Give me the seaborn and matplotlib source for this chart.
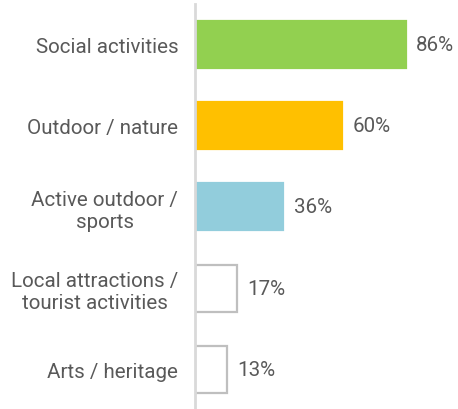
import matplotlib
matplotlib.use("Agg")
import matplotlib.pyplot as plt
import seaborn as sns
import pandas as pd

categories = ["Social activities", "Outdoor / nature", "Active outdoor /\nsports",
              "Local attractions /\ntourist activities", "Arts / heritage"]
values = [86, 60, 36, 17, 13]
bar_colors = ["#92d050", "#ffc000", "#92cddc", "#ffffff", "#ffffff"]
edge_colors = ["#92d050", "#ffc000", "#92cddc", "#bfbfbf", "#bfbfbf"]

sns.set_style("white")
plt.rcParams["font.family"] = ["Roboto", "DejaVu Sans"]

df = pd.DataFrame({"category": categories, "value": values})

fig = plt.figure(figsize=(4.58, 4.10), dpi=100)
ax = fig.add_axes([195 / 458, 0, 245 / 458, 405 / 410])

sns.barplot(data=df, x="value", y="category", hue="category",
            palette=bar_colors, saturation=1, width=0.58, legend=False, ax=ax)

for patch, ec in zip(ax.patches, edge_colors):
    patch.set_edgecolor(ec)
    patch.set_linewidth(1.6)

for i, v in enumerate(values):
    ax.text(v + 4.3, i, f"{v}%", va="center", ha="left",
            fontsize=14.8, color="#595959")

ax.set_xlim(0, 100)
ax.set_ylim(4.49, -0.5)
ax.set_xlabel("")
ax.set_ylabel("")
ax.set_xticks([])
ax.tick_params(axis="y", length=0, pad=12, labelsize=14.8, labelcolor="#595959")
for lbl in ax.get_yticklabels():
    lbl.set_multialignment("center")

for s in ["top", "right", "bottom"]:
    ax.spines[s].set_visible(False)
ax.spines["left"].set_color("#d9d9d9")
ax.spines["left"].set_linewidth(2)

fig.savefig("out.png", dpi=100)
